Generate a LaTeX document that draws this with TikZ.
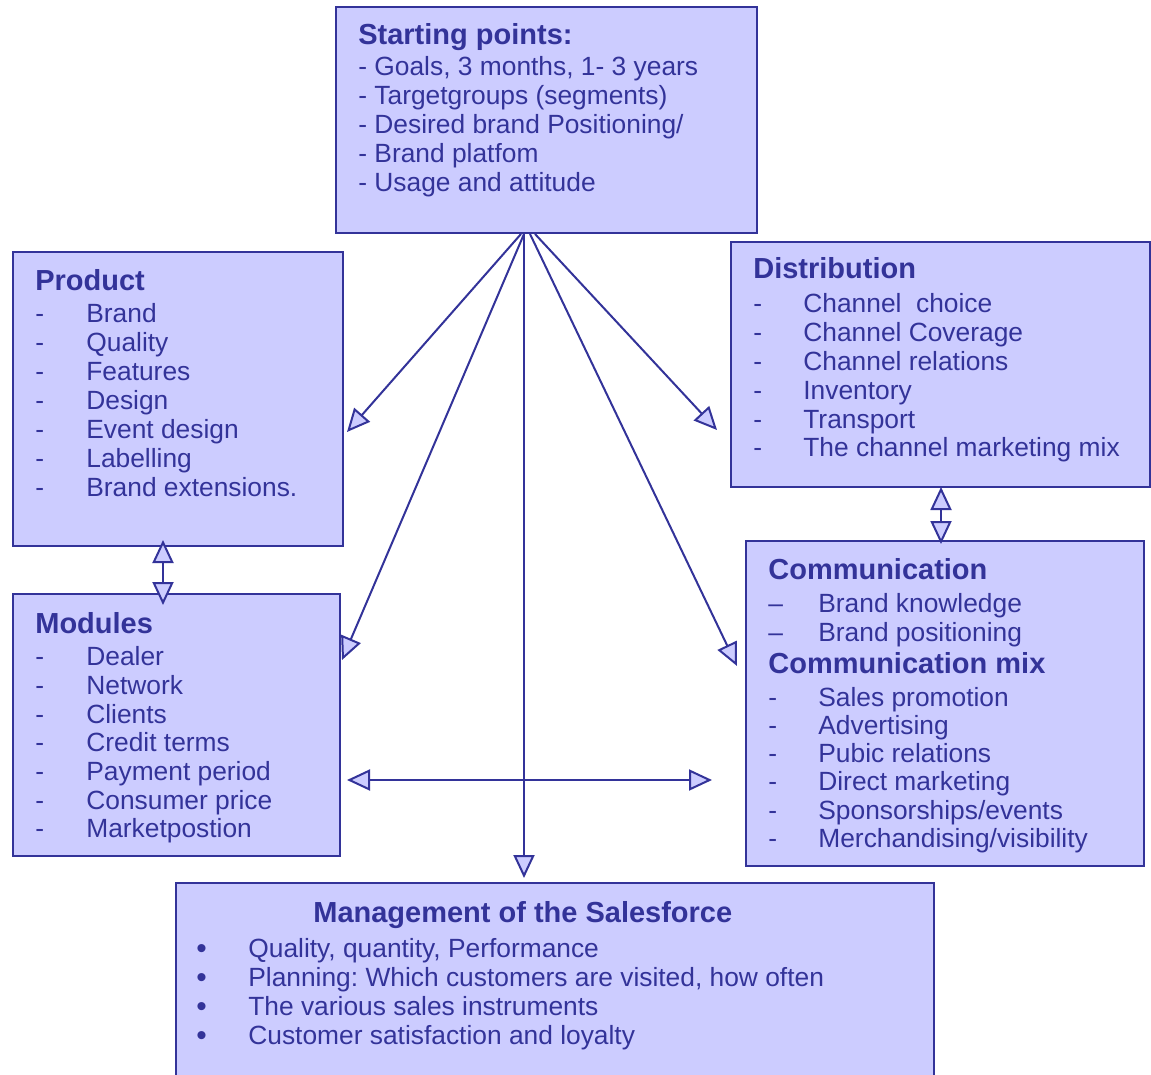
\documentclass[tikz,border=0pt]{standalone}
\usepackage{fontspec}
\setmainfont{Liberation Sans}
\usetikzlibrary{arrows.meta,calc}
\definecolor{boxfill}{HTML}{CCCCFF}
\definecolor{boxline}{HTML}{333399}
\frenchspacing

\begin{document}
\begin{tikzpicture}[x=0.02cm, y=-0.02cm]
        % basic settings
        \def\px{0.02cm} % one pixel of the sketch
        \useasboundingbox (0,0) rectangle (1151,1074);

        \tikzstyle{block} = [draw=boxline, fill=boxfill, line width=2*\px, anchor=north west, outer sep=0pt, inner sep=0pt]
        \tikzstyle{head} = [anchor=base west, inner sep=0pt, text=boxline, font=\fontsize{16.5}{18}\selectfont\bfseries]
        \tikzstyle{entry} = [anchor=base west, inner sep=0pt, text=boxline, font=\fontsize{15}{18}\selectfont]
        \tikzstyle{link} = [draw=boxline, line width=2*\px, >={Triangle[length=0.46cm, width=0.42cm, fill=boxfill]}]

        % 1. boxes
        \node[block, minimum width=421*\px, minimum height=226*\px] (start) at (336,7) {};
        \node[block, minimum width=330*\px, minimum height=294*\px] (product) at (13,252) {};
        \node[block, minimum width=419*\px, minimum height=245*\px] (distrib) at (731,242) {};
        \node[block, minimum width=327*\px, minimum height=262*\px] (modules) at (13,594) {};
        \node[block, minimum width=398*\px, minimum height=325*\px] (comm) at (746,541) {};
        \node[block, minimum width=758*\px, minimum height=210*\px] (salesforce) at (176,883) {};

        % 2. starting points
        \node[head] (start-h) at (358,45) {Starting points:};
        \foreach \t [count=\i] in {{- Goals, 3 months, 1- 3 years}, - Targetgroups (segments),
            - Desired brand Positioning/, - Brand platfom, - Usage and attitude}
            \node[entry] (start-\i) at (358,47+29*\i) {\t};

        % 3. product
        \node[head] (product-h) at (35,290) {Product};
        \foreach \t [count=\i] in {Brand, Quality, Features, Design, Event design, Labelling, Brand extensions.} {
            \node[entry] (product-d\i) at (35,293+29*\i) {-};
            \node[entry] (product-\i) at (86,293+29*\i) {\t};
        }

        % 4. modules
        \node[head] (modules-h) at (35,633) {Modules};
        \foreach \t [count=\i] in {Dealer, Network, Clients, Credit terms, Payment period, Consumer price, Marketpostion} {
            \node[entry] (modules-d\i) at (35,637+28.7*\i) {-};
            \node[entry] (modules-\i) at (86,637+28.7*\i) {\t};
        }

        % 5. distribution
        \node[head] (distrib-h) at (753,278) {Distribution};
        \foreach \t [count=\i] in {Channel\ \ choice, Channel Coverage, Channel relations, Inventory, Transport, The channel marketing mix} {
            \node[entry] (distrib-d\i) at (753,284+28.8*\i) {-};
            \node[entry] (distrib-\i) at (803,284+28.8*\i) {\t};
        }

        % 6. communication
        \node[head] (comm-h) at (768,579) {Communication};
        \foreach \t [count=\i] in {Brand knowledge, Brand positioning} {
            \node[entry] (comm-d\i) at (768,583+29*\i) {–};
            \node[entry] (comm-\i) at (818,583+29*\i) {\t};
        }
        \node[head] (mix-h) at (768,673) {Communication mix};
        \foreach \t [count=\i] in {Sales promotion, Advertising, Pubic relations, Direct marketing, Sponsorships/events, Merchandising/visibility} {
            \node[entry] (mix-d\i) at (768,678+28.2*\i) {-};
            \node[entry] (mix-\i) at (818,678+28.2*\i) {\t};
        }

        % 7. management of the salesforce
        \node[head] (salesforce-h) at (313,922) {Management of the Salesforce};
        \foreach \t [count=\i] in {{Quality, quantity, Performance}, {Planning: Which customers are visited, how often},
            The various sales instruments, Customer satisfaction and loyalty} {
            \node[entry, font=\fontsize{17}{18}\selectfont] (salesforce-b\i) at (196,929+29*\i) {•};
            \node[entry] (salesforce-\i) at (248,928+29*\i) {\t};
        }

        % 8. connectors
        \coordinate (hub) at (524,234);
        \coordinate (toProduct) at (347,432);
        \coordinate (toModules) at (342,660);
        \coordinate (toSales) at (524,878);
        \coordinate (toComm) at (737,666);
        \coordinate (toDistrib) at (717,430);
        \coordinate (midLeft) at (347,780);
        \coordinate (midRight) at (712,780);

        \draw[link, ->] ([xshift=-3*\px]hub) -- (toProduct);
        \draw[link, ->] (hub) -- (toModules);
        \draw[link, ->] (hub) -- (toSales);
        \draw[link, ->] ([xshift=6*\px]hub) -- (toComm);
        \draw[link, ->] ([xshift=11*\px]hub) -- (toDistrib);
        \draw[link, <->] (midLeft) -- (midRight);
        \draw[link, <->] ([yshift=6*\px]product.south -| 163,0) -- ([yshift=-11*\px]modules.north -| 163,0);
        \draw[link, <->] (distrib.south -| 941,0) -- ([yshift=-3*\px]comm.north -| 941,0);
\end{tikzpicture}
\end{document}
